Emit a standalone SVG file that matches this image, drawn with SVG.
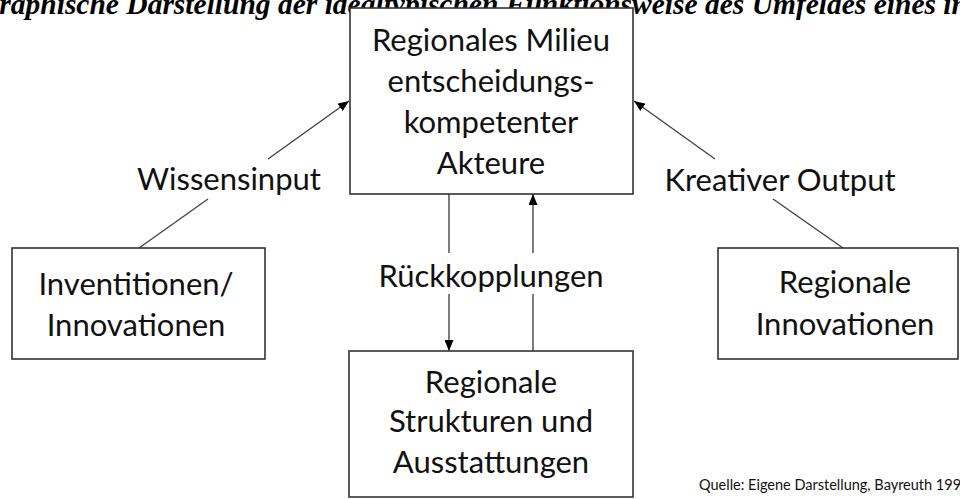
<svg xmlns="http://www.w3.org/2000/svg" width="960" height="499" viewBox="0 0 960 499">
<style>
.box{fill:#fff;stroke:#333;stroke-width:1.6}
.t{font-family:Lato,"Liberation Sans",sans-serif;font-size:31px;fill:#111;text-anchor:middle}
.c{stroke:#444;stroke-width:1.4;fill:none}
.title{font-family:"Liberation Serif",serif;font-weight:bold;font-style:italic;font-size:29.5px;fill:#000}
.src{font-family:Lato,"Liberation Sans",sans-serif;font-size:14.5px;fill:#111}
</style>
<defs>
<marker id="ah" markerUnits="userSpaceOnUse" markerWidth="11" markerHeight="9" refX="11" refY="4.5" orient="auto">
<path d="M0,0 L11,4.5 L0,9 z" fill="#000"/>
</marker>
</defs>
<rect width="960" height="499" fill="#fff"/>
<text class="title" x="-22" y="14">Graphische Darstellung der idealtypischen Funktionsweise des Umfeldes eines in</text>
<g id="connectors">
<line class="c" x1="139" y1="248" x2="208" y2="199"/>
<line class="c" x1="268" y1="159" x2="349" y2="101" marker-end="url(#ah)"/>
<line class="c" x1="715" y1="159" x2="634" y2="101" marker-end="url(#ah)"/>
<line class="c" x1="773" y1="199" x2="843" y2="248"/>
<line class="c" x1="449" y1="194" x2="449" y2="253"/>
<line class="c" x1="449" y1="294" x2="449" y2="351" marker-end="url(#ah)"/>
<line class="c" x1="533" y1="351" x2="533" y2="294"/>
<line class="c" x1="533" y1="253" x2="533" y2="194" marker-end="url(#ah)"/>
</g>
<g id="labels">
<text class="t" x="229" y="190">Wissensinput</text>
<text class="t" x="780" y="191">Kreativer Output</text>
<text class="t" x="491" y="287">Rückkopplungen</text>
</g>
<g id="milieu">
<rect class="box" x="350" y="8" width="283" height="186"/>
<text class="t" x="491" y="51">Regionales Milieu</text>
<text class="t" x="491" y="92">entscheidungs-</text>
<text class="t" x="491" y="133">kompetenter</text>
<text class="t" x="491" y="174">Akteure</text>
</g>
<g id="inventionen">
<rect class="box" x="12" y="248" width="253" height="111"/>
<text class="t" x="136" y="295">Inventitionen/</text>
<text class="t" x="136" y="336">Innovationen</text>
</g>
<g id="regionale-innovationen">
<rect class="box" x="718" y="248" width="240" height="111"/>
<text class="t" x="845" y="293">Regionale</text>
<text class="t" x="845" y="335">Innovationen</text>
</g>
<g id="strukturen">
<rect class="box" x="349" y="351" width="284" height="146"/>
<text class="t" x="491" y="393">Regionale</text>
<text class="t" x="491" y="432">Strukturen und</text>
<text class="t" x="491" y="473">Ausstattungen</text>
</g>
<text class="src" x="699" y="490">Quelle: Eigene Darstellung, Bayreuth 199</text>
</svg>
